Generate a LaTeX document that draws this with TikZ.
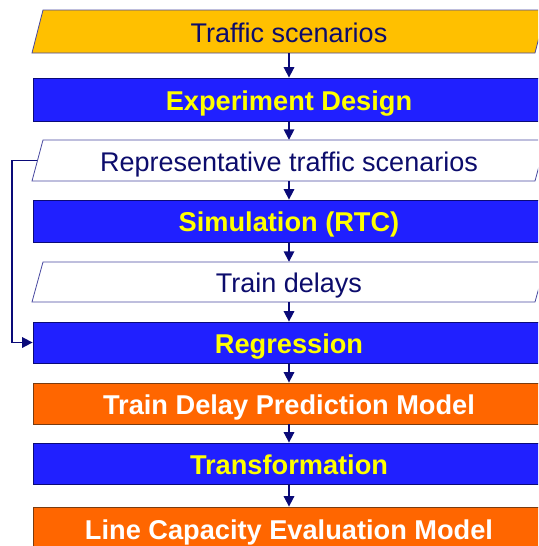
\documentclass[tikz,border=0pt]{standalone}
\usepackage{fontspec}
\setmainfont{Liberation Sans}
\usetikzlibrary{arrows.meta}
\definecolor{gold}{HTML}{FFC000}
\definecolor{rblue}{HTML}{2020FF}
\definecolor{rorange}{HTML}{FF6600}
\definecolor{navy}{HTML}{0A0A78}
\definecolor{rtext}{HTML}{0C0C6C}
\definecolor{edgeblue}{HTML}{4848A0}
\definecolor{edgebrown}{HTML}{7A3C10}
\definecolor{ryellow}{HTML}{FFFF00}
\begin{document}
\begin{tikzpicture}[x=1pt,y=-1pt,
  procbox/.style={rectangle, minimum width=512pt, minimum height=#1, inner sep=0pt,
    text height=24.8pt, text depth=3.2pt,
    font=\fontsize{27.2}{30}\selectfont\bfseries},
  bluebox/.style={procbox=#1, fill=rblue, draw=navy, line width=0.8pt, text=ryellow},
  orangebox/.style={procbox=#1, fill=rorange, draw=edgebrown, line width=0.8pt, text=white},
  databox/.style={rectangle, minimum width=503pt, minimum height=#1, inner sep=0pt,
    text height=24.8pt, text depth=3.2pt,
    font=\fontsize{27}{30}\selectfont, text=rtext},
  para/.style={line width=0.8pt, draw=edgeblue},
  arr/.style={draw=navy, line width=1.7pt, -{Triangle[length=10.5pt,width=10.5pt]}}]
\useasboundingbox (0,0) rectangle (538,546);
\clip (0,0) rectangle (538,546);
% data parallelograms (shapes drawn first, text nodes on top)
\coordinate (tsc) at (289,31.5);
\coordinate (rtsc) at (289,160.5);
\coordinate (tdc) at (289,282);
\path[para, fill=gold] (32,53) -- (43,10) -- (546,10) -- (535,53) -- cycle;
\path[para, fill=white] (32,181) -- (43,140) -- (546,140) -- (535,181) -- cycle;
\path[para, fill=white] (32,302) -- (43,262) -- (546,262) -- (535,302) -- cycle;
\node[databox=43pt] (ts) at (tsc) {Traffic scenarios};
\node[databox=41pt] (rts) at (rtsc) {Representative traffic scenarios};
\node[databox=40pt] (td) at (tdc) {Train delays};
% process boxes
\node[bluebox=43pt] (ed) at (289,99.5) {Experiment Design};
\node[bluebox=42pt] (sim) at (289,221) {Simulation (RTC)};
\node[bluebox=41pt] (reg) at (289,342.5) {Regression};
\node[orangebox=41pt] (tdp) at (289,403.5) {Train Delay Prediction Model};
\node[bluebox=41pt] (tr) at (289,463.5) {Transformation};
\node[orangebox=43pt] (lce) at (289,528.5) {Line Capacity Evaluation Model};
% connectors
\draw[arr] (ts.south) -- (ed.north);
\draw[arr] (ed.south) -- (rts.north);
\draw[arr] (rts.south) -- (sim.north);
\draw[arr] (sim.south) -- (td.north);
\draw[arr] (td.south) -- (reg.north);
\draw[arr] (reg.south) -- (tdp.north);
\draw[arr] (tdp.south) -- (tr.north);
\draw[arr] (tr.south) -- (lce.north);
\draw[arr] (rts.west) -- ++(-25.5,0) |- (reg.west);
\end{tikzpicture}
\end{document}
